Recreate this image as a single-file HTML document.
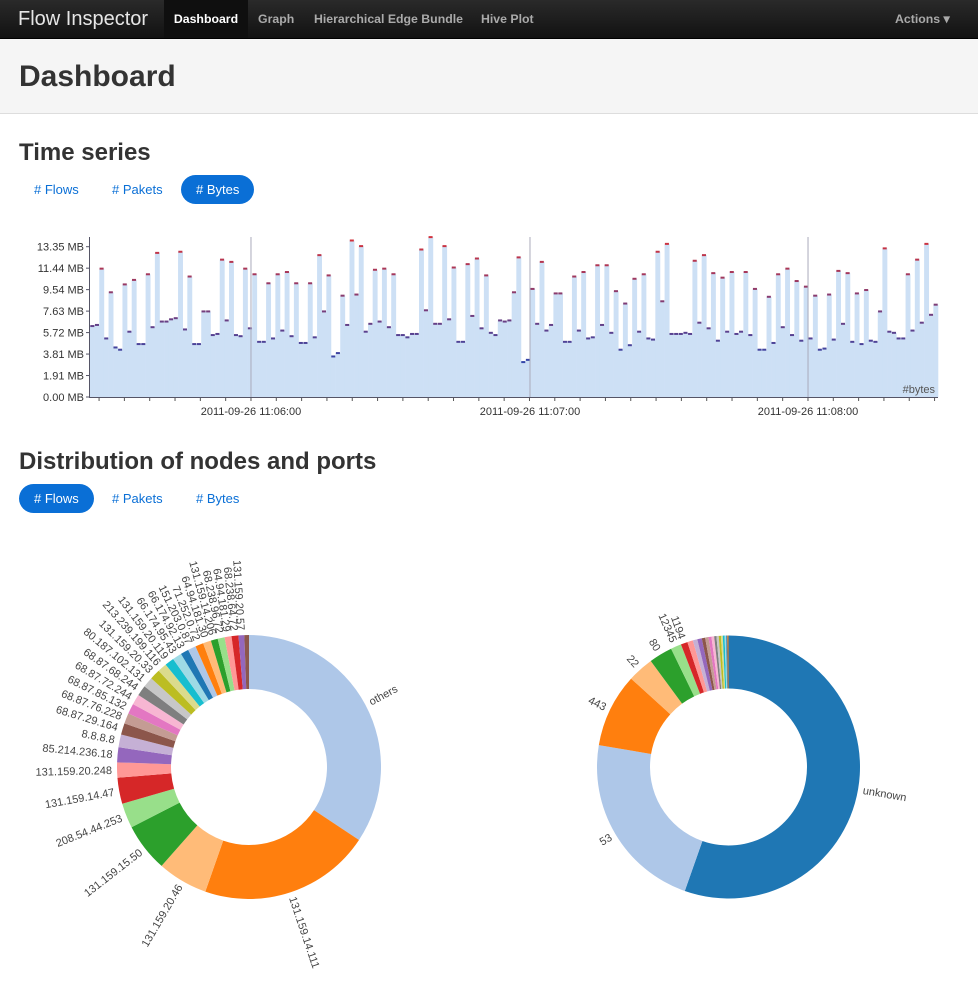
<!DOCTYPE html>
<html><head><meta charset="utf-8"><style>
*{margin:0;padding:0;box-sizing:border-box}
body{width:978px;height:984px;position:relative;background:#fff;font-family:"Liberation Sans",Arial,sans-serif;color:#333;overflow:hidden}
.nav{position:absolute;left:0;top:0;width:978px;height:39px;background:linear-gradient(#2a2a2a,#121212);border-bottom:1px solid #000}
.nav span{position:absolute;top:0;line-height:38px;font-size:12.3px;font-weight:bold;color:#aaa}
.hdr{position:absolute;left:0;top:39px;width:978px;height:75px;background:#f5f5f5;border-bottom:1px solid #ddd}
h1{position:absolute;left:19px;top:59px;font-size:30px;font-weight:bold;line-height:36px;color:#333}
h2{position:absolute;left:19px;font-size:24px;font-weight:bold;line-height:28px;color:#333}
.pill{position:absolute;height:29px;line-height:29px;font-size:13px;color:#0a6fd6;border-radius:15px;padding:0 15px}
.pill.on{background:#0a6fd6;color:#fff}
svg{position:absolute;left:0;top:0}
</style></head><body>
<div class="nav">
<span style="left:18px;font-size:20px;font-weight:normal;color:#e6e6e6">Flow Inspector</span>
<span style="left:164px;width:84px;text-align:center;background:#0f0f0f;color:#fff">Dashboard</span>
<span style="left:258px">Graph</span>
<span style="left:314px">Hierarchical Edge Bundle</span>
<span style="left:481px">Hive Plot</span>
<span style="left:895px">Actions ▾</span>
</div>
<div class="hdr"></div>
<h1>Dashboard</h1>
<h2 style="top:139px">Time series</h2>
<div class="pill" style="left:19px;top:175px"># Flows</div>
<div class="pill" style="left:97px;top:175px"># Pakets</div>
<div class="pill on" style="left:181px;top:175px"># Bytes</div>
<h2 style="top:448px">Distribution of nodes and ports</h2>
<div class="pill on" style="left:19px;top:484px"># Flows</div>
<div class="pill" style="left:97px;top:484px"># Pakets</div>
<div class="pill" style="left:181px;top:484px"># Bytes</div>
<svg id="s" width="978" height="984"></svg>
<script>
const byteValues=[6.3,6.4,11.4,5.2,9.3,4.4,4.2,10.0,5.8,10.4,4.7,4.7,10.9,6.2,12.8,6.7,6.7,6.9,7.0,12.9,6.0,10.7,4.7,4.7,7.6,7.6,5.5,5.6,12.2,6.8,12.0,5.5,5.4,11.4,6.1,10.9,4.9,
4.9,10.1,5.2,10.9,5.9,11.1,5.4,10.1,4.8,4.8,10.1,5.3,12.6,7.6,10.8,3.6,3.9,9.0,6.4,13.9,9.1,13.4,5.8,6.5,11.3,6.7,11.4,6.2,10.9,5.5,5.5,5.3,5.6,5.6,13.1,7.7,
14.2,6.5,6.5,13.4,6.9,11.5,4.9,4.9,11.8,7.2,12.3,6.1,10.8,5.7,5.5,6.8,6.7,6.8,9.3,12.4,3.1,3.3,9.6,6.5,12.0,5.9,6.4,9.2,9.2,4.9,4.9,10.7,5.9,11.1,5.2,5.3,
11.7,6.4,11.7,5.7,9.4,4.2,8.3,4.6,10.5,5.8,10.9,5.2,5.1,12.9,8.5,13.6,5.6,5.6,5.6,5.7,5.6,12.1,6.6,12.6,6.1,11.0,5.0,10.6,5.8,11.1,5.6,5.8,11.1,5.5,9.6,4.2,4.2,
8.9,4.8,10.9,6.2,11.4,5.5,10.3,5.0,9.8,5.2,9.0,4.2,4.3,9.1,5.1,11.2,6.5,11.0,4.9,9.2,4.7,9.5,5.0,4.9,7.6,13.2,5.8,5.7,5.2,5.2,10.9,5.9,12.2,6.6,13.6,7.3,8.2];
const yTicks=[0,1.907,3.814,5.721,7.628,9.535,11.442,13.349];
const minuteLabels=["2011-09-26 11:06:00","2011-09-26 11:07:00","2011-09-26 11:08:00"];
const minuteTimes=[34.74,94.95,154.95];
const leftLabels=["others","131.159.14.111","131.159.20.46","131.159.15.50","208.54.44.253","131.159.14.47","131.159.20.248","85.214.236.18","8.8.8.8","68.87.29.164","68.87.76.228","68.87.85.132","68.87.72.244","68.87.68.244","80.187.102.131","131.159.20.33","213.239.199.116","131.159.20.119","66.174.95.43","66.174.92.13","151.203.0.87","71.252.0.72","64.94.181.30","131.159.14.206","68.238.96.72","64.94.181.29","68.238.64.72","131.159.20.57",""];
const leftValues=[121.5,74.5,21.8,21,10.8,11.3,6.6,6.5,5.5,5,4.5,4.5,4.5,4.5,4.5,4.5,4,4,4,3.5,3.5,3.5,3.5,3,3,3,3,2.5,2];
const leftColors=["#aec7e8","#ff7f0e","#ffbb78","#2ca02c","#98df8a","#d62728","#ff9896","#9467bd","#c5b0d5","#8c564b","#c49c94","#e377c2","#f7b6d2","#7f7f7f","#c7c7c7","#bcbd22","#dbdb8d","#17becf","#9edae5","#1f77b4","#aec7e8","#ff7f0e","#ffbb78","#2ca02c","#98df8a","#ff9896","#d62728","#9467bd","#8c564b"];
const rightLabels=["unknown","53","443","22","80","12345","1194","","","","","","","","","","","","","","",""];
const rightValues=[200.3,80.5,32.8,11.6,10.4,4.7,3,2.5,2,2,1.5,1.5,1.3,1.2,1,1,1,0.8,0.8,0.7,0.5,0.5];
const rightColors=["#1f77b4","#aec7e8","#ff7f0e","#ffbb78","#2ca02c","#98df8a","#d62728","#ff9896","#c5b0d5","#9467bd","#8c564b","#c49c94","#e377c2","#f7b6d2","#7f7f7f","#c7c7c7","#bcbd22","#dbdb8d","#17becf","#9edae5","#1f77b4","#ff7f0e"];

const NS="http://www.w3.org/2000/svg",S=document.getElementById('s');
function mk(t,a,p){const e=document.createElementNS(NS,t);for(const k in a)e.setAttribute(k,a[k]);(p||S).appendChild(e);return e;}
const X0=90,X1=938,Y0=397,Ymax=13.349,Ytop=246.7;
const bw=(X1-X0)/byteValues.length;
const xs=t=>X0+t*bw, ys=v=>Y0-v*(Y0-Ytop)/Ymax;
const g=mk('g',{});


function capColor(v){const f=Math.min(1,Math.max(0,(v-3)/11));const r=Math.round(50+f*160),gg=Math.round(70-f*20),b=Math.round(170-f*110);return `rgb(${r},${gg},${b})`;}
byteValues.forEach((v,i)=>{
 const r=mk('rect',{x:xs(i),y:ys(v),width:bw+0.3,height:Y0-ys(v),fill:'#cde0f5'},g);
 
 
 const c=mk('rect',{x:xs(i)+0.3,y:ys(v)-1,width:bw-0.6,height:2,fill:capColor(v)},g);
 
 
});
minuteTimes.forEach((t,k)=>{
 const l=mk('line',{x1:xs(t),x2:xs(t),y1:237,y2:Y0,stroke:'#aab',"stroke-width":1},g);
 
 
 const tx=mk('text',{x:xs(t),y:415,"text-anchor":"middle","font-size":"11",fill:'#333'},g);
 tx.textContent=minuteLabels[k];
 
 
});
for(let t=minuteTimes[0]-60.1/11*6;t<byteValues.length;t+=60.1/11){if(t<0.5)continue;
 const l=mk('line',{x1:xs(t),x2:xs(t),y1:Y0,y2:Y0+4,stroke:'#555'},g);
 
 }
mk('line',{x1:X0,x2:X1,y1:Y0+0.5,y2:Y0+0.5,stroke:'#556',"stroke-width":1},g);
mk('line',{x1:X0-0.5,x2:X0-0.5,y1:237,y2:Y0+1,stroke:'#556',"stroke-width":1},g);
yTicks.forEach(v=>{
 mk('line',{x1:X0-4,x2:X0,y1:ys(v),y2:ys(v),stroke:'#556'},g);
 const tx=mk('text',{x:84,y:ys(v)+4,"text-anchor":"end","font-size":"11",fill:'#333'},g);
 tx.textContent=v.toFixed(2)+" MB";
 
 
});
const bl=mk('text',{x:935,y:393,"text-anchor":"end","font-size":"11",fill:'#555'},g);
bl.textContent="#bytes";


function donut(name,cx,cy,ro,ri,vals,cols,labels){
 const dg=mk('g',{});
 
 
 const tot=vals.reduce((a,b)=>a+b,0);let a0=0;
 vals.forEach((v,i)=>{
  const a1=a0+v/tot*2*Math.PI;
  const p=(a,r)=>[cx+r*Math.sin(a),cy-r*Math.cos(a)];
  const [x0,y0]=p(a0,ro),[x1,y1]=p(a1,ro),[x2,y2]=p(a1,ri),[x3,y3]=p(a0,ri);
  const lg=(a1-a0)>Math.PI?1:0;
  const s=mk('path',{d:`M${x0},${y0}A${ro},${ro} 0 ${lg} 1 ${x1},${y1}L${x2},${y2}A${ri},${ri} 0 ${lg} 0 ${x3},${y3}Z`,fill:cols[i]},dg);
  
  
  if(labels[i]){
   const m=(a0+a1)/2,deg=m*180/Math.PI-90;
   const flip=m>Math.PI;
   const t=mk('text',{transform:`translate(${cx},${cy}) rotate(${deg}) translate(${ro+5},0)`+(flip?' rotate(180)':''),"text-anchor":flip?'end':'start',dy:'0.35em',"font-size":"11",fill:'#444'},dg);
   t.textContent=labels[i];
   
   
  }
  a0=a1;
 });
}
donut('nodes-donut',249,767,132,78,leftValues,leftColors,leftLabels);
donut('ports-donut',728.5,767,131.5,78.5,rightValues,rightColors,rightLabels);
</script>
</body></html>
